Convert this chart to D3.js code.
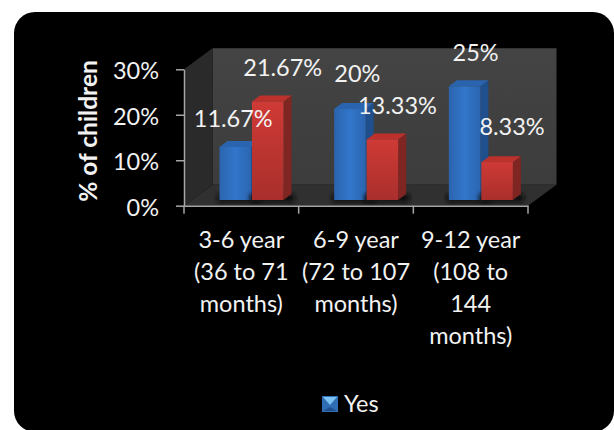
<!DOCTYPE html>
<html>
<head>
<meta charset="utf-8">
<style>
  html, body { margin: 0; padding: 0; background: #fff; }
  svg { display: block; }
  text { font-family: Lato, "Open Sans", sans-serif; fill: #f2f2f2; }
</style>
<script src="https://cdn.jsdelivr.net/npm/d3@7/dist/d3.min.js"></script>
</head>
<body>
<svg id="chart" width="614" height="430"></svg>
<script>
// Share of children by age band
const categories = ["3-6 year", "6-9 year", "9-12 year"];
const categoryLines = [
  ["3-6 year", "(36 to 71", "months)"],
  ["6-9 year", "(72 to 107", "months)"],
  ["9-12 year", "(108 to", "144", "months)"]
];
const seriesYes = [11.67, 20, 25];
const seriesSecond = [21.67, 13.33, 8.33];
const valueLabelsYes = ["11.67%", "20%", "25%"];
const valueLabelsSecond = ["21.67%", "13.33%", "8.33%"];
const yTicks = [0, 10, 20, 30];
const legendLabels = ["Yes"];

// Plot box layout
const axisLeft = 184, axisRight = 528, axisBase = 205.7, axisTop = 69.3;
const depthX = 28.5, depthY = 21;      // wall depth of the 3-D box
const barDX = 8, barDY = 6;            // depth of each column
const barInset = 35.5, barW = 31.5, barGap = 1;
const barLiftY = 5.7;
const fontSize = 23.5;

const svg = d3.select("#chart");
const defs = svg.append("defs");

const x = d3.scaleBand().domain(categories).range([axisLeft, axisRight]);
const y = d3.scaleLinear().domain([0, 30]).range([axisBase, axisTop]);

function hGrad(id, stops) {
  const g = defs.append("linearGradient").attr("id", id)
    .attr("x1", 0).attr("x2", 1).attr("y1", 0).attr("y2", 0);
  stops.forEach(([o, c]) => g.append("stop").attr("offset", o).attr("stop-color", c));
}
function vGrad(id, stops) {
  const g = defs.append("linearGradient").attr("id", id)
    .attr("x1", 0).attr("x2", 0).attr("y1", 0).attr("y2", 1);
  stops.forEach(([o, c]) => g.append("stop").attr("offset", o).attr("stop-color", c));
}
hGrad("blueFront", [[0, "#2b64ae"], [0.5, "#3276cb"], [1, "#2b65b0"]]);
vGrad("redFront", [[0, "#cf3a35"], [1, "#a92f2c"]]);
vGrad("wallBack", [[0, "#444444"], [1, "#3c3c3c"]]);
defs.append("filter").attr("id", "soft").attr("x", "-20%").attr("y", "-50%")
  .attr("width", "140%").attr("height", "200%")
  .append("feGaussianBlur").attr("stdDeviation", 2);

// Card
svg.append("rect").attr("x", 14).attr("y", 12).attr("width", 600).attr("height", 420)
  .attr("rx", 21).attr("fill", "#000");

// 3-D box: back wall, side wall, floor
const poly = pts => pts.map(p => p.join(",")).join(" ");
svg.append("polygon").attr("fill", "url(#wallBack)")
  .attr("points", poly([[axisLeft + depthX, axisTop - depthY], [axisRight + depthX, axisTop - depthY],
                        [axisRight + depthX, axisBase - depthY], [axisLeft + depthX, axisBase - depthY]]));
svg.append("polygon").attr("fill", "#2a2a2a")
  .attr("points", poly([[axisLeft, axisTop], [axisLeft + depthX, axisTop - depthY],
                        [axisLeft + depthX, axisBase - depthY], [axisLeft, axisBase]]));
svg.append("polygon").attr("fill", "#303030")
  .attr("points", poly([[axisLeft, axisBase], [axisRight, axisBase],
                        [axisRight + depthX, axisBase - depthY], [axisLeft + depthX, axisBase - depthY]]));

// Columns
function drawColumn(left, value, front, top, side) {
  const yTop = y(value) - barLiftY, yBot = y(0) - barLiftY, right = left + barW;
  svg.append("rect").attr("x", left - 2).attr("y", yBot - 6).attr("width", barW + barDX + 5).attr("height", 8)
    .attr("fill", "#111").attr("filter", "url(#soft)");
  svg.append("polygon").attr("fill", side)
    .attr("points", poly([[right, yTop], [right + barDX, yTop - barDY], [right + barDX, yBot - barDY], [right, yBot]]));
  svg.append("polygon").attr("fill", top)
    .attr("points", poly([[left, yTop], [left + barDX, yTop - barDY], [right + barDX, yTop - barDY], [right, yTop]]));
  svg.append("rect").attr("x", left).attr("y", yTop).attr("width", barW).attr("height", yBot - yTop).attr("fill", front);
}
categories.forEach((c, i) => {
  const left = x(c) + barInset;
  drawColumn(left, seriesYes[i], "url(#blueFront)", "#2a64ae", "#1f4f8c");
  drawColumn(left + barW + barGap, seriesSecond[i], "url(#redFront)", "#bd312d", "#7f2522");
});

// Axes
const axisColor = "#a6a6a6";
const yAxis = svg.append("g").attr("transform", `translate(${axisLeft},0)`)
  .call(d3.axisLeft(y).tickValues(yTicks).tickFormat(d => d + "%").tickSize(8).tickSizeOuter(0));
const xAxis = svg.append("g").attr("transform", `translate(0,${axisBase})`)
  .call(d3.axisBottom(x).tickValues([]).tickSizeOuter(0));
xAxis.selectAll("line.edge")
  .data(x.domain().map(d => x(d)).concat(axisRight))
  .join("line").attr("class", "edge")
  .attr("x1", d => d).attr("x2", d => d).attr("y1", 0).attr("y2", 8);
svg.selectAll("g .domain").attr("stroke", axisColor).attr("stroke-width", 1.5);
svg.selectAll("g line").attr("stroke", axisColor).attr("stroke-width", 1.5);
yAxis.selectAll("text").attr("x", -25).attr("dy", "0.41em").attr("font-size", fontSize)
  .style("font-family", "Lato, sans-serif").style("fill", "#f2f2f2");

// Category labels, wrapped by hand
const lineGap = 32.1, firstBaseline = 248;
const catLabel = svg.append("g").attr("text-anchor", "middle").attr("font-size", fontSize);
categories.forEach((c, i) => {
  categoryLines[i].forEach((t, j) => {
    catLabel.append("text").attr("x", x(c) + x.bandwidth() / 2)
      .attr("y", firstBaseline + j * lineGap).text(t);
  });
});

// Value labels sit beside their columns, nudged clear of each other
const nudgeYes = [[-2, -20], [7.5, -27], [11, -25.5]];
const nudgeSecond = [[15, -25.5], [15, -25.5], [15, -27]];
function valueLabel(left, value, txt, n) {
  svg.append("text").attr("text-anchor", "middle").attr("font-size", fontSize)
    .attr("x", left + barW / 2 + n[0]).attr("y", y(value) - barLiftY + n[1]).text(txt);
}
categories.forEach((c, i) => {
  const left = x(c) + barInset;
  valueLabel(left, seriesYes[i], valueLabelsYes[i], nudgeYes[i]);
  valueLabel(left + barW + barGap, seriesSecond[i], valueLabelsSecond[i], nudgeSecond[i]);
});

// Axis title
svg.append("text").attr("transform", "translate(97,131) rotate(-90)")
  .attr("text-anchor", "middle").attr("font-size", 24.5).attr("font-weight", 700).text("% of children");

// Legend
const lg = svg.append("g").attr("transform", "translate(322,396)");
lg.append("rect").attr("width", 16).attr("height", 16).attr("fill", "#2f6db5");
lg.append("polygon").attr("fill", "#7cc3f2").attr("points", "1,1 15,1 8,9");
lg.append("polygon").attr("fill", "#1f4f8c").attr("points", "1,15 15,15 8,11");
lg.append("text").attr("x", 22).attr("y", 16).attr("font-size", fontSize).text(legendLabels[0]);
</script>
</body>
</html>
